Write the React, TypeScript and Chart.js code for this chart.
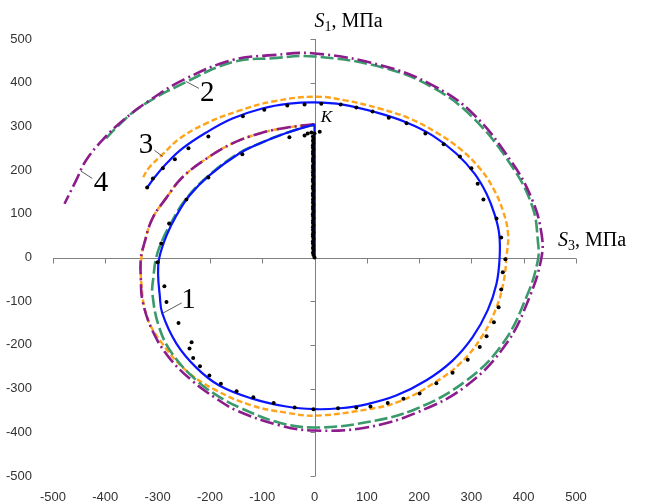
import React, { useEffect, useRef } from 'react';
import { Chart, registerables } from 'chart.js';

Chart.register(...registerables);

// Axis ticks (both axes share the same range)
const tickValues = [-500, -400, -300, -200, -100, 0, 100, 200, 300, 400, 500];

// Loading path O -> K
const loadingPath: [number, number][] = [[0, 0], [0, 305]];

// Curve 1 (blue, solid)
const curve1: [number, number][] = [
  [0, 305], [-54, 285], [-105, 261], [-144, 238], [-201, 188], [-239, 142], [-264, 96], [-283, 50],
  [-297, -2], [-299, -40], [-296, -85], [-291, -128], [-264, -197], [-226, -252], [-182, -293],
  [-119, -323], [-54, -341], [0, -347], [48, -345], [99, -336], [156, -316], [214, -281],
  [264, -236], [302, -183], [331, -121], [348, -60], [354, 0], [353, 55], [344, 100], [329, 146],
  [306, 192], [271, 238], [226, 279], [176, 309], [118, 332], [54, 350], [0, 355], [-48, 352],
  [-100, 341], [-157, 318], [-207, 286], [-253, 249], [-283, 215], [-306, 183], [-320, 160],
];

// Curve 2 (green, long dashes)
const curve2: [number, number][] = [
  [0, 305], [-54, 285], [-105, 261], [-144, 239], [-201, 189], [-245, 135], [-274, 80], [-293, 34],
  [-303, -2], [-308, -45], [-310, -82], [-297, -160], [-272, -220], [-226, -281], [-186, -316],
  [-144, -343], [-67, -378], [0, -389], [99, -377], [195, -346], [291, -281], [360, -197],
  [405, -91], [427, -7], [427, 39], [417, 115], [379, 206], [303, 320], [226, 389], [130, 435],
  [0, 460], [-80, 456], [-157, 447], [-250, 399], [-335, 343], [-379, 297], [-402, 268],
];

// Curve 3 (orange, short dashes)
const curve3: [number, number][] = [
  [0, 305], [-54, 297], [-105, 284], [-157, 261], [-207, 226], [-253, 183], [-283, 137], [-310, 89],
  [-325, 34], [-331, -2], [-331, -60], [-320, -137], [-291, -197], [-245, -259], [-188, -304],
  [-119, -339], [-54, -355], [0, -362], [99, -348], [163, -329], [226, -289], [278, -243],
  [319, -183], [348, -114], [362, -53], [367, 0], [370, 55], [360, 108], [341, 160], [316, 204],
  [278, 249], [233, 286], [182, 318], [124, 341], [61, 359], [0, 368], [-80, 357], [-144, 336],
  [-207, 307], [-258, 272], [-293, 233], [-316, 206], [-329, 181],
];

// Curve 4 (purple, dash-dot)
const curve4: [number, number][] = [
  [0, 305], [-54, 297], [-105, 284], [-157, 261], [-207, 226], [-253, 183], [-283, 137], [-310, 89],
  [-325, 34], [-332, -2], [-332, -50], [-329, -98], [-310, -167], [-278, -229], [-233, -283],
  [-190, -321], [-149, -350], [-67, -384], [0, -396], [99, -389], [195, -355], [291, -293],
  [367, -197], [411, -91], [434, 0], [434, 55], [417, 130], [379, 215], [303, 329], [226, 394],
  [130, 439], [0, 467], [-80, 463], [-157, 452], [-250, 407], [-316, 359], [-367, 313],
  [-406, 268], [-437, 222], [-456, 176], [-478, 123],
];

// Experimental points (black dots)
const expPoints: [number, number][] = [
  [0, 0], [-2, 6], [-3, 11], [-2, 17], [-3, 22], [-2, 27], [-3, 32], [-3, 37], [-2, 43], [-3, 48],
  [-3, 53], [-2, 58], [-3, 63], [-3, 69], [-2, 74], [-3, 79], [-3, 84], [-2, 90], [-3, 95], [-3, 100],
  [-2, 105], [-3, 111], [-3, 116], [-2, 121], [-3, 126], [-3, 132], [-2, 137], [-3, 142], [-3, 147],
  [-2, 153], [-3, 158], [-3, 163], [-2, 168], [-3, 174], [-3, 179], [-2, 184], [-3, 189], [-3, 195],
  [-2, 200], [-3, 205], [-3, 210], [-2, 216], [-3, 221], [-3, 226], [-2, 231], [-3, 237], [-3, 242],
  [-2, 247], [-3, 252], [-3, 257], [-2, 262], [-3, 267], [-2, 272], [-3, 277],
  [-48, 275], [-19, 279], [-13, 284], [-6, 286], [0, 284], [10, 288],
  [-138, 236], [-203, 183], [-245, 133], [-278, 78], [-293, 32], [-300, -11], [-287, -66],
  [-283, -102], [-260, -150], [-235, -194], [-239, -208], [-232, -230], [-219, -249], [-201, -270],
  [-179, -289], [-149, -306], [-117, -320], [-78, -333], [-38, -343], [-2, -347], [45, -345],
  [80, -343], [107, -341], [140, -333], [170, -323], [201, -311], [233, -288], [264, -264],
  [293, -234], [316, -205], [329, -180], [343, -148], [352, -114], [357, -73], [360, -34], [365, -4],
  [357, 46], [348, 89], [323, 133], [312, 169], [300, 204], [278, 231], [247, 259], [212, 284],
  [176, 307], [142, 320], [111, 334], [80, 343], [50, 350], [13, 352], [-19, 350], [-52, 348],
  [-96, 338], [-137, 323], [-203, 277], [-241, 250], [-267, 225], [-290, 204], [-309, 181],
  [-320, 160],
];

// Curve number labels: text, position, leader line (data coordinates)
const curveLabels = [
  { text: '1', at: [-241, -98], from: [-254, -104], to: [-291, -128] },
  { text: '2', at: [-205, 375], from: [-221, 387], to: [-246, 403] },
  { text: '3', at: [-322, 256], from: [-306, 245], to: [-290, 231] },
  { text: '4', at: [-408, 169], from: [-425, 181], to: [-447, 198] },
];
const pointKLabel = { text: 'K', at: [12, 320] };

const toXY = (pts: [number, number][]) => pts.map(([x, y]) => ({ x, y }));

const overlayPlugin = {
  id: 'overlay',
  beforeDatasetsDraw(chart: any) {
    const { ctx, chartArea: a, scales } = chart;
    const sx = scales.x, sy = scales.y;
    const x0 = Math.round(sx.getPixelForValue(0)) + 0.5;
    const y0 = Math.round(sy.getPixelForValue(0)) + 0.5;
    ctx.save();
    ctx.strokeStyle = '#808080';
    ctx.lineWidth = 1;
    ctx.beginPath();
    ctx.moveTo(a.left, y0);
    ctx.lineTo(a.right, y0);
    ctx.moveTo(x0, a.top);
    ctx.lineTo(x0, a.bottom);
    for (const t of tickValues) {
      const xp = Math.round(sx.getPixelForValue(t)) + 0.5;
      ctx.moveTo(xp, y0);
      ctx.lineTo(xp, y0 + 5);
      const yp = Math.round(sy.getPixelForValue(t)) + 0.5;
      ctx.moveTo(x0, yp);
      ctx.lineTo(x0 - 5, yp);
    }
    ctx.stroke();
    ctx.restore();
  },
  afterDatasetsDraw(chart: any) {
    const { ctx, chartArea: a, scales } = chart;
    const sx = scales.x, sy = scales.y;
    const px = (v: number) => sx.getPixelForValue(v);
    const py = (v: number) => sy.getPixelForValue(v);
    ctx.save();
    ctx.strokeStyle = '#333333';
    ctx.lineWidth = 0.8;
    for (const l of curveLabels) {
      ctx.beginPath();
      ctx.moveTo(px(l.from[0]), py(l.from[1]));
      ctx.lineTo(px(l.to[0]), py(l.to[1]));
      ctx.stroke();
    }
    ctx.fillStyle = '#000';
    ctx.textAlign = 'center';
    ctx.textBaseline = 'middle';
    ctx.font = '29px "Liberation Serif", "Times New Roman", serif';
    for (const l of curveLabels) {
      ctx.fillText(l.text, px(l.at[0]), py(l.at[1]));
    }
    ctx.font = 'italic 17px "Liberation Serif", "Times New Roman", serif';
    ctx.textAlign = 'left';
    ctx.fillText(pointKLabel.text, px(pointKLabel.at[0]), py(pointKLabel.at[1]));

    const drawTitle = (left: number, base: number, sub: string) => {
      ctx.textAlign = 'left';
      ctx.textBaseline = 'alphabetic';
      ctx.font = 'italic 20px "Liberation Serif", "Times New Roman", serif';
      ctx.fillText('S', left, base);
      let x = left + ctx.measureText('S').width;
      ctx.font = '14px "Liberation Serif", "Times New Roman", serif';
      ctx.fillText(sub, x, base + 4);
      x += ctx.measureText(sub).width;
      ctx.font = '20px "Liberation Serif", "Times New Roman", serif';
      ctx.fillText(', МПа', x, base);
    };
    drawTitle(px(0), a.top - 12, '1');
    drawTitle(a.right - 18, py(0) - 12, '3');
    ctx.restore();
  },
};

export default function App() {
  const ref = useRef<HTMLCanvasElement>(null);
  useEffect(() => {
    if (!ref.current) return;
    const tickFont = { family: '"Liberation Sans", Arial, sans-serif', size: 13 };
    const lineSet = (label: string, pts: [number, number][], color: string, width: number, dash: number[]) => ({
      label,
      data: toXY(pts),
      showLine: true,
      borderColor: color,
      borderWidth: width,
      borderDash: dash,
      pointRadius: 0,
      tension: 0.4,
    });
    const chart = new Chart(ref.current, {
      type: 'scatter',
      data: {
        datasets: [
          {
            label: 'exp',
            data: toXY(expPoints),
            pointRadius: 2,
            pointBackgroundColor: '#000',
            pointBorderWidth: 0,
            showLine: false,
          },
          {
            label: 'load',
            data: toXY(loadingPath),
            showLine: true,
            borderColor: '#0a14ff',
            borderWidth: 2.2,
            pointRadius: 0,
            tension: 0,
          },
          lineSet('1', curve1, '#0a14ff', 2.2, []),
          lineSet('4', curve4, '#8c1c8c', 2.6, [14, 4, 2, 4]),
          lineSet('2', curve2, '#3a9a6c', 2.6, [13, 4]),
          lineSet('3', curve3, '#ffa31a', 2.4, [6, 3]),
        ],
      },
      options: {
        animation: false,
        responsive: true,
        maintainAspectRatio: false,
        layout: { padding: { left: 0, right: 69, top: 39, bottom: 0 } },
        plugins: { legend: { display: false }, tooltip: { enabled: false } },
        scales: {
          x: {
            type: 'linear',
            min: -500,
            max: 500,
            afterBuildTicks: (s: any) => { s.ticks = tickValues.map((v) => ({ value: v })); },
            ticks: { font: tickFont, color: '#333', padding: 6, maxRotation: 0 },
            grid: { display: false },
            border: { display: false },
            afterFit: (s: any) => { s.height = 28; },
          },
          y: {
            type: 'linear',
            min: -500,
            max: 500,
            afterBuildTicks: (s: any) => { s.ticks = tickValues.map((v) => ({ value: v })); },
            ticks: { font: tickFont, color: '#333', padding: 13 },
            grid: { display: false },
            border: { display: false },
            afterFit: (s: any) => { s.width = 53; },
          },
        },
      },
      plugins: [overlayPlugin],
    } as any);
    return () => chart.destroy();
  }, []);
  return (
    <div style={{ position: 'absolute', left: 0, top: 0, width: 645, height: 504, background: '#fff' }}>
      <canvas ref={ref} />
    </div>
  );
}
